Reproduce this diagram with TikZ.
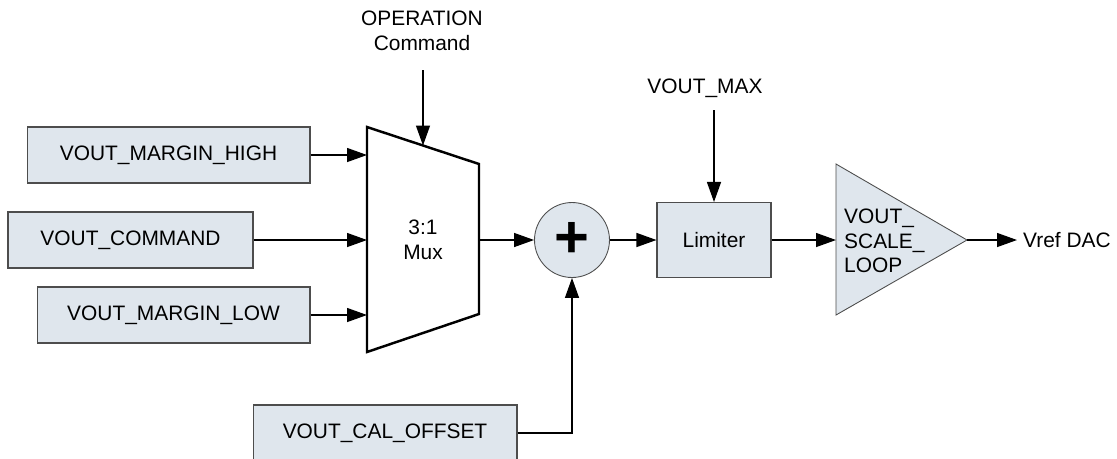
\documentclass[tikz,border=0pt]{standalone}
\usepackage{fontspec}
\setmainfont{Liberation Sans}
\usetikzlibrary{arrows.meta}
\definecolor{boxfill}{HTML}{DFE6ED}
\definecolor{boxline}{HTML}{4D4D4D}

\begin{document}
\begin{tikzpicture}[
    x=0.02cm, y=-0.02cm,
    every node/.style={font=\fontsize{11.9}{13.9}\selectfont},
    regbox/.style={rectangle, draw=boxline, fill=boxfill, line width=0.6pt, minimum height=1.12cm, inner sep=0pt},
    sumnode/.style={circle, draw=boxline, fill=boxfill, line width=0.5pt, minimum size=1.5cm, inner sep=0pt},
    arr/.style={-{Triangle[length=0.4cm,width=0.28cm]}, line width=0.75pt}
  ]
  \useasboundingbox (0,0) rectangle (1117,458);

  \node[regbox, minimum width=5.66cm] (high) at (168.5,155) {VOUT\_MARGIN\_HIGH};
  \node[regbox, minimum width=4.9cm] (cmd) at (130.5,240) {VOUT\_COMMAND};
  \node[regbox, minimum width=5.46cm] (low) at (173.5,315) {VOUT\_MARGIN\_LOW};
  \node[regbox, minimum width=5.28cm] (cal) at (385,433) {VOUT\_CAL\_OFFSET};

  \coordinate (mux tl) at (367,127);
  \coordinate (mux tr) at (479,164);
  \coordinate (mux br) at (479,314);
  \coordinate (mux bl) at (367,352);
  \coordinate (mux out) at (479,240);
  \coordinate (mux sel) at (423,145.5);
  \draw[line width=1.4pt, line join=miter] (mux tl) -- (mux tr) -- (mux br) -- (mux bl) -- cycle;
  \node[align=center] (mux) at (423,240) {3:1\\Mux};

  \node[align=center] (op) at (422,31) {OPERATION\\Command};
  \coordinate (op end) at (423,70);

  \node[sumnode, font=\fontsize{34}{34}\selectfont\bfseries] (sum) at (572,240) {+};

  \node[regbox, minimum width=2.28cm, minimum height=1.5cm] (lim) at (714,240) {Limiter};
  \node (vmax) at (705,88) {VOUT\_MAX};
  \coordinate (vmax end) at (714,110);

  \coordinate (amp tl) at (836,164);
  \coordinate (amp tip) at (967,240);
  \coordinate (amp bl) at (836,315);
  \draw[draw=boxline, fill=boxfill, line width=0.5pt] (amp tl) -- (amp tip) -- (amp bl) -- cycle;
  \node[anchor=west, align=left] (amp) at (838,241) {VOUT\_\\SCALE\_\\LOOP};
  \node[anchor=west] (vref) at (1017,240) {Vref DAC};

  \draw[arr] (high.east) -- (high.east -| mux tl);
  \draw[arr] (cmd.east) -- (cmd.east -| mux tl);
  \draw[arr] (low.east) -- (low.east -| mux tl);
  \draw[arr] (op end) -- (mux sel);
  \draw[arr] (mux out) -- (sum.west);
  \draw[arr] (cal.east) -| (sum.south);
  \draw[arr] (sum.east) -- (lim.west);
  \draw[arr] (vmax end) -- (lim.north);
  \draw[arr] (lim.east) -- (lim.east -| amp tl);
  \draw[arr] (amp tip) -- (vref.west);
\end{tikzpicture}
\end{document}
